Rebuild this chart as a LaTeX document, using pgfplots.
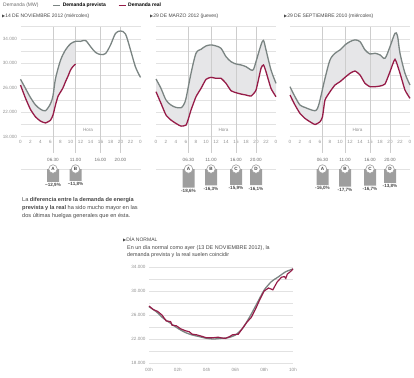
\documentclass[border=0pt]{standalone}
\usepackage{pgfplots}
\pgfplotsset{compat=1.18}
\usepgfplotslibrary{fillbetween}
\usepackage{fontspec}
\setmainfont{Liberation Sans}
\newfontfamily\dejavu{DejaVu Sans}
\definecolor{prev}{RGB}{122,132,130}
\definecolor{real}{RGB}{150,28,72}
\definecolor{fillg}{RGB}{230,230,232}
\definecolor{gridc}{RGB}{226,226,226}
\definecolor{evl}{RGB}{205,205,205}
\definecolor{tickc}{RGB}{145,145,145}
\definecolor{txt}{RGB}{70,70,70}
\definecolor{barc}{RGB}{158,158,158}
\newcommand{\tk}{\fontsize{4.6}{5}\selectfont}
\newcommand{\sm}{\fontsize{5}{6}\selectfont}
\newcommand{\tri}{{\dejavu\fontsize{4}{5}\selectfont ▶}}
\tikzset{ev/.style={evl, line width=0.5pt},
  tl/.style={font=\tk, text=txt!80, yshift=9pt},
  circ/.style={circle, draw=barc, fill=white, line width=0.6pt, inner sep=0pt, minimum size=8.5pt, font=\bfseries\tk, text=txt},
  vl/.style={below, font=\bfseries\tk, text=txt, inner sep=1.5pt}}
\newcommand{\timelabels}{%
 \draw[gridc, line width=0.6pt] (axis cs:0,0) -- (axis cs:24,0);
 \node[tl] at (axis cs:6.5,0) {06.30};
 \node[tl] at (axis cs:11,0) {11.00};
 \node[tl] at (axis cs:16,0) {16.00};
 \node[tl] at (axis cs:20,0) {20.00};}
\newcommand{\evlines}{%
 \draw[ev] (axis cs:6.5,36000) -- (axis cs:6.5,15400);
 \draw[ev] (axis cs:11,36000) -- (axis cs:11,15400);
 \draw[ev] (axis cs:16,36000) -- (axis cs:16,15400);
 \draw[ev] (axis cs:20,36000) -- (axis cs:20,15400);}
\pgfplotsset{
 panel/.style={scale only axis, width=120pt, height=110pt, xmin=0, xmax=24,
   ymin=18000, ymax=36000, axis line style={draw=none}, major tick length=0pt,
   scaled y ticks=false,
   ytick={18000,20000,...,36000}, yticklabels={}, ymajorgrids,
   grid style={gridc, line width=0.5pt},
   xtick={0,2,...,24}, xticklabels={0,2,4,6,8,10,12,14,16,18,20,22,0},
   tick label style={font=\tk, text=tickc}, clip=false, anchor=south west},
 prevl/.style={prev, line width=1.3pt, smooth, tension=0.5},
 reall/.style={real, line width=1.3pt, smooth, tension=0.3},
 barax/.style={scale only axis, width=120pt, height=20pt, xmin=0, xmax=24,
   ymin=-20, ymax=0, hide axis, clip=false, anchor=north west},
}
\begin{document}
\begin{tikzpicture}
% header
\node[anchor=west, font=\sm, text=txt!80, inner sep=0pt] at (3pt,-5.3pt) {Demanda (MW)};
\node[anchor=west, font=\sm, text=txt, inner sep=0pt] at (2pt,-16pt) {\tri 14 DE NOVIEMBRE 2012 (miércoles)};
\node[anchor=west, font=\sm, text=txt, inner sep=0pt] at (150pt,-16pt) {\tri 29 DE MARZO 2012 (jueves)};
\node[anchor=west, font=\sm, text=txt, inner sep=0pt] at (284pt,-16pt) {\tri 29 DE SEPTIEMBRE 2010 (miércoles)};

% ---------- panel 1
\begin{axis}[panel, at={(20.5pt,-136.7pt)},
  yticklabels={18.000,,22.000,,26.000,,30.000,,34.000,},
  legend style={at={(0.24,1.195)}, anchor=west, draw=none, fill=none, font=\bfseries\sm,
    legend columns=2, /tikz/every even column/.append style={column sep=10pt}},
  legend image code/.code={\draw[#1, line width=1.3pt] (0pt,0pt) -- (7pt,0pt);}]
\addplot[draw=none, smooth, tension=0.5, name path=p1, forget plot] coordinates {(0,27400) (1,25900) (2,24400) (3,23200) (4,22500) (5,22250) (6,23400) (6.5,24700) (7,27500) (8,30500) (9,32200) (10,33200) (11,33600)};
\addplot[draw=none, smooth, tension=0.3, name path=r1, forget plot] coordinates {(0,26450) (1,24300) (2,22450) (3,21250) (4,20550) (5,20250) (6,20700) (6.5,21550) (7,23200) (7.5,24600) (8,25300) (8.5,26000) (9,27000) (9.5,27900) (10,28900) (10.5,29500) (11,29900)};
\addplot[fillg, draw=none, forget plot] fill between[of=p1 and r1];
\evlines
\addplot[prevl] coordinates {(0,27400) (1,25900) (2,24400) (3,23200) (4,22500) (5,22250) (6,23400) (6.5,24700) (7,27500) (8,30500) (9,32200) (10,33200) (11,33600) (12,33600) (13,33750) (14,32750) (15,31800) (16,31450) (17,31600) (18,33000) (19,34900) (20,35300) (21,34800) (22,32200) (23,29400) (24,27700)};
\addlegendentry{Demanda prevista}
\addplot[reall] coordinates {(0,26450) (1,24300) (2,22450) (3,21250) (4,20550) (5,20250) (6,20700) (6.5,21550) (7,23200) (7.5,24600) (8,25300) (8.5,26000) (9,27000) (9.5,27900) (10,28900) (10.5,29500) (11,29900)};
\addlegendentry{Demanda real}
\node[font=\tk, text=tickc] at (axis cs:13.5,19100) {Hora};
\end{axis}

% ---------- panel 2
\begin{axis}[panel, at={(156pt,-136.7pt)}]
\addplot[prevl, draw=none, name path=p2] coordinates {(0,27440) (1,25900) (2,24000) (3,23180) (4,22790) (5,22740) (5.5,23180) (6,24270) (7,28370) (8,31650) (9,32300) (10,32850) (11,33020) (12,32850) (13,32470) (14,31100) (15,30280) (16,29900) (17,29740) (18,29460) (19,28920) (19.5,29000) (20,30280) (21,33020) (21.5,33750) (22,32200) (23,28920) (24,26730)};
\addplot[reall, draw=none, name path=r2] coordinates {(0,25360) (1,23450) (2,21540) (3,20720) (4,20170) (5,19730) (6,19900) (6.5,20990) (7,22350) (8,24540) (9,25900) (10,27380) (11,27710) (12,27550) (13,27550) (14,26730) (15,25530) (16,25200) (17,24980) (18,24820) (19,24650) (20,25630) (21,29190) (21.5,29740) (22,28640) (23,25900) (24,24540)};
\addplot[fillg, draw=none] fill between[of=p2 and r2];
\evlines
\addplot[prevl] coordinates {(0,27440) (1,25900) (2,24000) (3,23180) (4,22790) (5,22740) (5.5,23180) (6,24270) (7,28370) (8,31650) (9,32300) (10,32850) (11,33020) (12,32850) (13,32470) (14,31100) (15,30280) (16,29900) (17,29740) (18,29460) (19,28920) (19.5,29000) (20,30280) (21,33020) (21.5,33750) (22,32200) (23,28920) (24,26730)};
\addplot[reall] coordinates {(0,25360) (1,23450) (2,21540) (3,20720) (4,20170) (5,19730) (6,19900) (6.5,20990) (7,22350) (8,24540) (9,25900) (10,27380) (11,27710) (12,27550) (13,27550) (14,26730) (15,25530) (16,25200) (17,24980) (18,24820) (19,24650) (20,25630) (21,29190) (21.5,29740) (22,28640) (23,25900) (24,24540)};
\node[font=\tk, text=tickc] at (axis cs:13.5,19100) {Hora};
\end{axis}

% ---------- panel 3
\begin{axis}[panel, at={(290pt,-136.7pt)}]
\addplot[prevl, draw=none, name path=p3] coordinates {(0,26180) (1,24540) (2,23180) (3,22790) (4,22460) (5,22250) (5.5,22630) (6,24000) (7,27550) (8,30560) (9,31650) (10,32200) (11,33020) (12,33560) (13,33840) (14,33560) (15,32200) (16,31540) (17,31650) (18,31380) (19,30830) (20,32740) (21,34930) (21.5,34500) (22,31650) (23,28370) (24,26460)};
\addplot[reall, draw=none, name path=r3] coordinates {(0,24820) (1,23180) (2,21810) (3,20990) (4,20440) (5,20000) (6,20440) (6.5,21260) (7,24000) (8,25360) (9,26460) (10,27000) (11,27710) (12,28370) (13,28750) (14,28100) (15,26730) (16,26180) (17,26180) (18,26290) (19,26620) (20,28640) (21,30660) (22,28370) (23,25630) (24,24270)};
\addplot[fillg, draw=none] fill between[of=p3 and r3];
\evlines
\addplot[prevl] coordinates {(0,26180) (1,24540) (2,23180) (3,22790) (4,22460) (5,22250) (5.5,22630) (6,24000) (7,27550) (8,30560) (9,31650) (10,32200) (11,33020) (12,33560) (13,33840) (14,33560) (15,32200) (16,31540) (17,31650) (18,31380) (19,30830) (20,32740) (21,34930) (21.5,34500) (22,31650) (23,28370) (24,26460)};
\addplot[reall] coordinates {(0,24820) (1,23180) (2,21810) (3,20990) (4,20440) (5,20000) (6,20440) (6.5,21260) (7,24000) (8,25360) (9,26460) (10,27000) (11,27710) (12,28370) (13,28750) (14,28100) (15,26730) (16,26180) (17,26180) (18,26290) (19,26620) (20,28640) (21,30660) (22,28370) (23,25630) (24,24270)};
\node[font=\tk, text=tickc] at (axis cs:13.5,19100) {Hora};
\end{axis}

% ---------- bars
\begin{axis}[barax, at={(20.5pt,-169pt)}]
\timelabels
\addplot[ybar, bar width=12pt, fill=barc, draw=none] coordinates {(6.5,-12.9) (11,-11.8)};
\node[circ] at (axis cs:6.5,0) {A};
\node[circ] at (axis cs:11,0) {B};
\node[vl] at (axis cs:6.5,-12.9) {−12,9\%};
\node[vl] at (axis cs:11,-11.8) {−11,8\%};
\end{axis}
\begin{axis}[barax, at={(156pt,-169pt)}]
\timelabels
\addplot[ybar, bar width=12pt, fill=barc, draw=none] coordinates {(6.5,-18.6) (11,-16.3) (16,-15.9) (20,-16.1)};
\node[circ] at (axis cs:6.5,0) {A};
\node[circ] at (axis cs:11,0) {B};
\node[circ] at (axis cs:16,0) {C};
\node[circ] at (axis cs:20,0) {D};
\node[vl] at (axis cs:6.5,-18.6) {-18,6\%};
\node[vl] at (axis cs:11,-16.3) {-16,3\%};
\node[vl] at (axis cs:16,-15.9) {-15,9\%};
\node[vl] at (axis cs:20,-16.1) {-16,1\%};
\end{axis}
\begin{axis}[barax, at={(290pt,-169pt)}]
\timelabels
\addplot[ybar, bar width=12pt, fill=barc, draw=none] coordinates {(6.5,-16.0) (11,-17.7) (16,-16.7) (20,-13.8)};
\node[circ] at (axis cs:6.5,0) {A};
\node[circ] at (axis cs:11,0) {B};
\node[circ] at (axis cs:16,0) {C};
\node[circ] at (axis cs:20,0) {D};
\node[vl] at (axis cs:6.5,-16.0) {-16,0\%};
\node[vl] at (axis cs:11,-17.7) {-17,7\%};
\node[vl] at (axis cs:16,-16.7) {-16,7\%};
\node[vl] at (axis cs:20,-13.8) {-13,8\%};
\end{axis}

% paragraph
\node[anchor=north west, align=left, font=\fontsize{5.6}{8}\selectfont, text=txt, inner sep=0pt] at (22pt,-196.8pt)
 {La \textbf{diferencia entre la demanda de energía}\\\textbf{prevista y la real} ha sido mucho mayor en las\\dos últimas huelgas generales que en ésta.};

% bottom
\node[anchor=west, font=\sm, text=txt, inner sep=0pt] at (123pt,-240pt) {\tri DÍA NORMAL};
\node[anchor=north west, align=left, font=\fontsize{5.4}{7}\selectfont, text=txt, inner sep=0pt] at (127pt,-245.5pt)
 {En un día normal como ayer (13 DE NOVIEMBRE 2012), la\\demanda prevista y la real suelen coincidir};
\begin{axis}[scale only axis, width=144pt, height=96pt, at={(149pt,-363pt)}, anchor=south west,
  xmin=0, xmax=10, ymin=18000, ymax=34000, axis line style={draw=none}, major tick length=0pt,
  scaled y ticks=false,
  ytick={18000,20000,...,34000}, yticklabels={18.000,,22.000,,26.000,,30.000,,34.000},
  ymajorgrids, grid style={gridc, line width=0.5pt},
  xtick={0,2,...,10}, xticklabels={00h,02h,04h,06h,08h,10h},
  xticklabel style={yshift=-2pt},
  tick label style={font=\tk, text=tickc}, clip=false]
\addplot[prev, line width=1.3pt, smooth, tension=0.4] coordinates {(0,27390) (0.5,26560) (1,25440) (1.5,24610) (2,23780) (2.5,23110) (3,22670) (3.5,22390) (4,22110) (4.5,22000) (5,22110) (5.5,22220) (6,22670) (6.5,23780) (7,25720) (7.5,27940) (8,30170) (8.5,31560) (9,32390) (9.5,33220) (10,33670)};
\addplot[real, line width=1.2pt] coordinates {(0,27500) (0.3,26900) (0.6,26600) (0.9,26000) (1.2,25000) (1.5,24900) (1.6,24300) (1.9,24200) (2.2,23700) (2.5,23400) (2.8,23200) (3.0,22800) (3.3,22700) (3.6,22500) (4.0,22200) (4.4,22200) (4.8,22300) (5.0,22200) (5.3,22100) (5.6,22400) (5.8,22700) (6.2,22800) (6.5,23800) (6.8,24800) (7.1,25600) (7.4,27000) (7.7,28600) (8.0,30000) (8.3,30500) (8.6,30200) (8.9,31500) (9.2,32300) (9.4,32400) (9.5,32100) (9.6,32800) (9.9,33400) (10,33700)};
\end{axis}
\pgfresetboundingbox
\path[use as bounding box] (0,0) rectangle (414pt,-377pt);
\end{tikzpicture}
\end{document}
